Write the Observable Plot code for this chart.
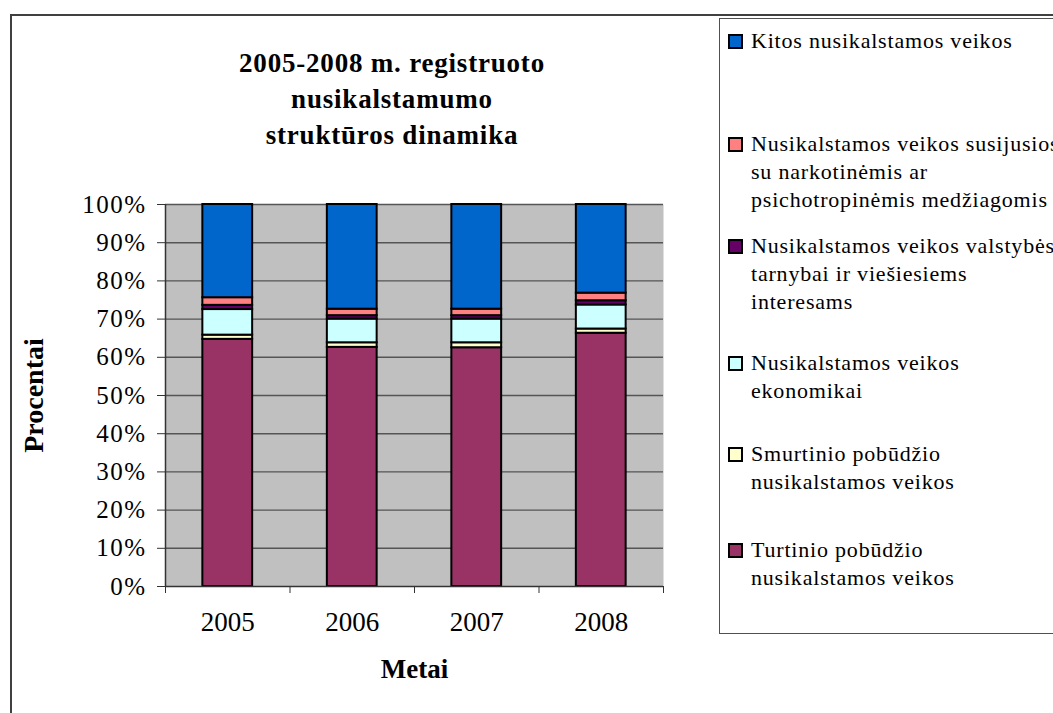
<!DOCTYPE html>
<html>
<head>
<meta charset="utf-8">
<script src="https://cdn.jsdelivr.net/npm/d3@7"></script>
<script src="https://cdn.jsdelivr.net/npm/@observablehq/plot@0.6"></script>
<style>
  html, body { margin:0; padding:0; background:#fff; }
  body { width:1053px; height:713px; position:relative; overflow:hidden; font-family:"Liberation Serif", "Times New Roman", serif; color:#000; }
  #outer { position:absolute; left:10px; top:14px; width:1200px; height:800px; border-left:2px solid #404040; border-top:2px solid #404040; }
  #chart { position:absolute; left:0; top:0; }
  #title { position:absolute; left:192px; top:45px; width:400px; text-align:center; font-weight:bold; font-size:27px; letter-spacing:0.8px; line-height:36px; }
  #legend { position:absolute; left:719px; top:18px; width:600px; height:614px; border:1.5px solid #505050; }
  .item { position:absolute; left:8px; font-size:22px; letter-spacing:0.8px; line-height:28px; white-space:nowrap; }
  .sw { position:absolute; left:0; top:7px; width:11px; height:11px; border:2px solid #000; }
  .txt { position:absolute; left:23px; top:0; }
</style>
</head>
<body>
<div id="outer"></div>
<div id="chart"></div>
<div id="title">2005-2008 m. registruoto<br>nusikalstamumo<br>struktūros dinamika</div>
<div id="legend"></div>
<script>
// ---- data ----
const years = ["2005", "2006", "2007", "2008"];
const seriesNames = [
  "Turtinio pobūdžio nusikalstamos veikos",
  "Smurtinio pobūdžio nusikalstamos veikos",
  "Nusikalstamos veikos ekonomikai",
  "Nusikalstamos veikos valstybės tarnybai ir viešiesiems interesams",
  "Nusikalstamos veikos susijusios su narkotinėmis ar psichotropinėmis medžiagomis",
  "Kitos nusikalstamos veikos"
];
const turtinio   = [64.7, 62.6, 62.5, 66.3];
const smurtinio  = [1.1, 1.2, 1.3, 1.1];
const ekonomikai = [6.7, 6.2, 6.2, 6.3];
const valstybes  = [1.1, 0.9, 0.9, 1.1];
const narkotines = [2.0, 1.7, 1.7, 2.0];
const kitos      = [24.4, 27.4, 27.4, 23.2];
const seriesColors = ["#993366", "#FFFFCC", "#CCFFFF", "#660066", "#FF8080", "#0066CC"];
const yTicks = [0, 10, 20, 30, 40, 50, 60, 70, 80, 90, 100];
const legendLines = [
  ["Kitos nusikalstamos veikos"],
  ["Nusikalstamos veikos susijusios", "su narkotinėmis ar", "psichotropinėmis medžiagomis"],
  ["Nusikalstamos veikos valstybės", "tarnybai ir viešiesiems", "interesams"],
  ["Nusikalstamos veikos", "ekonomikai"],
  ["Smurtinio pobūdžio", "nusikalstamos veikos"],
  ["Turtinio pobūdžio", "nusikalstamos veikos"]
];
const legendSeries = [5, 4, 3, 2, 1, 0];
const legendTops = [26, 129, 231, 348, 439, 535];

// ---- build stacked rows ----
const values = [turtinio, smurtinio, ekonomikai, valstybes, narkotines, kitos];
const rows = [];
years.forEach((yr, i) => {
  let acc = 0;
  values.forEach((arr, s) => {
    rows.push({year: yr, idx: i, series: seriesNames[s], y1: acc, y2: acc + arr[i]});
    acc += arr[i];
  });
});

const chart = Plot.plot({
  width: 700,
  height: 713,
  marginLeft: 165,
  marginRight: 37,
  marginTop: 204,
  marginBottom: 127,
  style: {background: "transparent", color: "#000", fontFamily: "'Liberation Serif', serif", overflow: "visible"},
  x: {domain: [0, years.length], axis: null},
  y: {domain: [0, 100], axis: null},
  color: {domain: seriesNames, range: seriesColors},
  marks: [
    Plot.frame({fill: "#c0c0c0"}),
    Plot.ruleY(yTicks.filter(d => d > 0), {stroke: "#555", strokeWidth: 1.4}),
    Plot.rect(rows, {
      x1: d => d.idx + 0.3, x2: d => d.idx + 0.7,
      y1: "y1", y2: "y2", fill: "series",
      stroke: "#000", strokeWidth: 2
    }),
    Plot.axisY({ticks: yTicks, tickFormat: d => d + "%", tickSize: 8, tickPadding: 11, fontSize: 25, label: null, stroke: "#333"}),
    Plot.axisX({ticks: d3.range(years.length + 1), tickFormat: () => "", tickSize: 7, label: null, stroke: "#333"}),
    Plot.ruleX([0], {stroke: "#333", strokeWidth: 1.5}),
    Plot.ruleY([0], {stroke: "#333", strokeWidth: 1.5}),
    Plot.text(years, {x: (d, i) => i + 0.5, frameAnchor: "bottom", dy: 44, fontSize: 27}),
    Plot.text(["Metai"], {frameAnchor: "bottom", dy: 91, fontSize: 27, fontWeight: "bold"}),
    Plot.text(["Procentai"], {frameAnchor: "left", textAnchor: "middle", dx: -131, rotate: -90, fontSize: 28, fontWeight: "bold"})
  ]
});
d3.select(chart).selectAll('g[aria-label="y-axis tick label"] text').attr("letter-spacing", "1.5px");
document.getElementById("chart").appendChild(chart);

// ---- legend ----
const legend = document.getElementById("legend");
legendSeries.forEach((s, k) => {
  const item = document.createElement("div");
  item.className = "item";
  item.style.top = (legendTops[k] - 18) + "px";
  const sw = document.createElement("div");
  sw.className = "sw";
  sw.style.background = seriesColors[s];
  const txt = document.createElement("div");
  txt.className = "txt";
  txt.innerHTML = legendLines[k].join("<br>");
  item.appendChild(sw);
  item.appendChild(txt);
  legend.appendChild(item);
});
</script>
</body>
</html>
